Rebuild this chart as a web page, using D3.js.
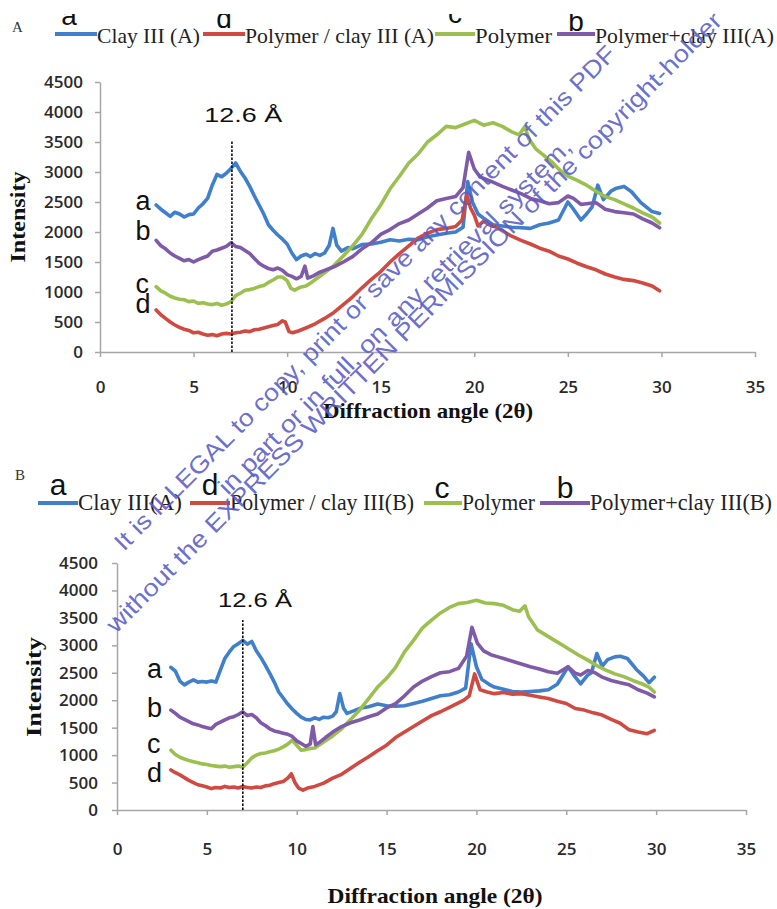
<!DOCTYPE html>
<html><head><meta charset="utf-8">
<script src="https://cdn.jsdelivr.net/npm/d3@7"></script>
<style>body{margin:0;background:#fff}svg{display:block}</style>
</head><body>
<svg id="c" width="777" height="909"></svg>
<script>
// ---------- DATA ----------
const xTicks = [0,5,10,15,20,25,30,35];
const yTicks = [0,500,1000,1500,2000,2500,3000,3500,4000,4500];
const legendNamesA = ["Clay III (A)","Polymer / clay III (A)","Polymer","Polymer+clay III(A)"];
const legendNamesB = ["Clay III(A)","Polymer / clay III(B)","Polymer","Polymer+clay III(B)"];
const legendLetters = ["a","d","c","b"];
const curveLetters = ["a","b","c","d"]; // blue, purple, green, red
const xTitle = "Diffraction angle (2\u03b8)";
const yTitle = "Intensity";
const annText = "12.6 \u00c5";

// Panel A
const clayA = [[3.0,2450],[3.25,2380],[3.5,2320],[3.75,2260],[4.0,2330],[4.25,2300],[4.5,2250],[4.75,2290],[5.0,2300],[5.25,2400],[5.5,2470],[5.75,2560],[6.0,2780],[6.25,2960],[6.5,2920],[6.75,2980],[7.0,3060],[7.25,3150],[7.5,3010],[7.75,2900],[8.0,2760],[8.25,2600],[8.5,2450],[8.75,2300],[9.0,2120],[9.25,2030],[9.5,1950],[9.75,1880],[10.0,1800],[10.25,1650],[10.5,1540],[10.75,1600],[11.0,1630],[11.25,1590],[11.5,1640],[11.75,1610],[12.0,1650],[12.25,1780],[12.45,2060],[12.65,1780],[12.9,1680],[13.25,1740],[13.5,1720],[14.0,1790],[14.5,1800],[15.0,1830],[15.5,1870],[16.0,1850],[16.5,1880],[17.0,1870],[17.5,1920],[18.0,1950],[18.5,1980],[19.0,2000],[19.4,2080],[19.65,2840],[19.9,2500],[20.2,2300],[20.5,2230],[21.0,2120],[21.5,2100],[22.0,2080],[22.5,2070],[23.0,2060],[23.5,2120],[24.0,2150],[24.5,2200],[25.0,2500],[25.3,2380],[25.7,2200],[26.0,2300],[26.3,2420],[26.6,2780],[26.9,2540],[27.3,2680],[27.6,2730],[28.0,2760],[28.4,2670],[28.9,2490],[29.5,2340],[29.9,2310]];
const polyClayA = [[3.0,700],[3.25,620],[3.5,560],[3.75,500],[4.0,450],[4.25,410],[4.5,380],[4.75,360],[5.0,320],[5.25,330],[5.5,300],[5.75,280],[6.0,290],[6.25,270],[6.5,300],[6.75,310],[7.0,300],[7.25,320],[7.5,330],[7.75,350],[8.0,340],[8.25,370],[8.5,380],[8.75,400],[9.0,420],[9.25,440],[9.5,460],[9.75,520],[9.9,500],[10.1,340],[10.3,320],[10.6,350],[11.0,400],[11.5,470],[12.0,560],[12.5,660],[13.0,790],[13.5,920],[14.0,1070],[14.5,1210],[15.0,1340],[15.5,1500],[16.0,1640],[16.5,1770],[17.0,1900],[17.5,1980],[18.0,2040],[18.5,2060],[19.0,2090],[19.35,2200],[19.6,2620],[19.8,2400],[20.0,2280],[20.2,2100],[20.5,2180],[20.8,2120],[21.2,2080],[21.5,2020],[22.0,1930],[22.5,1860],[23.0,1800],[23.5,1730],[24.0,1680],[24.5,1600],[25.0,1550],[25.5,1480],[26.0,1420],[26.5,1370],[27.0,1300],[27.5,1250],[28.0,1210],[28.5,1190],[29.0,1150],[29.5,1100],[29.9,1020]];
const polymerA = [[3.0,1090],[3.25,1020],[3.5,980],[3.75,930],[4.0,900],[4.25,880],[4.5,870],[4.75,840],[5.0,850],[5.25,810],[5.5,820],[5.75,800],[6.0,790],[6.25,810],[6.5,780],[6.75,800],[7.0,840],[7.25,940],[7.5,980],[7.75,1030],[8.0,1040],[8.25,1060],[8.5,1090],[8.75,1110],[9.0,1160],[9.25,1200],[9.5,1250],[9.75,1250],[10.0,1190],[10.2,1060],[10.4,1030],[10.7,1080],[11.0,1100],[11.3,1160],[11.6,1230],[12.0,1320],[12.5,1440],[13.0,1600],[13.5,1770],[14.0,1960],[14.5,2220],[15.0,2450],[15.5,2720],[16.0,2930],[16.5,3150],[17.0,3300],[17.5,3500],[18.0,3620],[18.5,3760],[19.0,3740],[19.5,3800],[20.0,3860],[20.5,3780],[21.0,3820],[21.5,3760],[22.0,3670],[22.4,3620],[22.7,3760],[22.9,3560],[23.3,3380],[23.7,3280],[24.2,3150],[24.6,3020],[25.0,2930],[25.5,2860],[26.0,2780],[26.5,2680],[27.0,2590],[27.5,2540],[28.0,2470],[28.5,2400],[29.0,2320],[29.5,2250],[29.9,2150]];
const polyPlusA = [[3.0,1860],[3.25,1770],[3.5,1720],[3.75,1650],[4.0,1600],[4.25,1560],[4.5,1520],[4.75,1540],[5.0,1500],[5.25,1540],[5.5,1570],[5.75,1600],[6.0,1680],[6.25,1700],[6.5,1730],[6.75,1760],[7.0,1820],[7.25,1760],[7.5,1740],[7.75,1690],[8.0,1640],[8.25,1560],[8.5,1480],[8.75,1430],[9.0,1390],[9.25,1370],[9.5,1400],[9.75,1360],[10.0,1290],[10.25,1260],[10.5,1220],[10.75,1260],[10.95,1430],[11.1,1230],[11.4,1270],[11.75,1330],[12.0,1360],[12.5,1420],[13.0,1500],[13.5,1590],[14.0,1720],[14.5,1820],[15.0,1960],[15.5,2040],[16.0,2140],[16.5,2200],[17.0,2300],[17.5,2400],[18.0,2520],[18.5,2560],[19.0,2590],[19.4,2740],[19.7,3330],[20.0,3050],[20.3,2920],[20.7,2870],[21.0,2830],[21.5,2760],[22.0,2700],[22.5,2640],[23.0,2560],[23.5,2520],[24.0,2470],[24.5,2490],[25.0,2600],[25.3,2560],[25.7,2460],[26.0,2470],[26.5,2490],[27.0,2380],[27.5,2340],[28.0,2320],[28.5,2300],[29.0,2220],[29.5,2150],[29.9,2070]];

// Panel B
const clayB = [[3.0,2600],[3.25,2530],[3.5,2350],[3.75,2280],[4.0,2330],[4.25,2370],[4.5,2330],[4.75,2340],[5.0,2330],[5.25,2350],[5.5,2330],[5.75,2550],[6.0,2760],[6.25,2880],[6.5,2980],[6.75,3030],[7.0,3090],[7.25,3020],[7.5,3070],[7.75,2900],[8.0,2780],[8.25,2640],[8.5,2490],[8.75,2330],[9.0,2150],[9.25,2040],[9.5,1930],[9.75,1840],[10.0,1760],[10.25,1690],[10.5,1650],[10.75,1640],[11.0,1680],[11.25,1650],[11.5,1690],[11.75,1680],[12.0,1710],[12.2,1790],[12.4,2120],[12.6,1860],[12.8,1760],[13.2,1810],[13.6,1860],[14.0,1880],[14.5,1930],[15.0,1900],[15.5,1890],[16.0,1900],[16.5,1940],[17.0,1980],[17.5,2030],[18.0,2080],[18.5,2100],[19.0,2150],[19.4,2220],[19.7,3030],[20.0,2610],[20.3,2380],[20.7,2290],[21.0,2240],[21.5,2200],[22.0,2160],[22.5,2150],[23.0,2160],[23.5,2170],[24.0,2190],[24.5,2290],[25.1,2610],[25.5,2420],[25.8,2300],[26.2,2460],[26.4,2500],[26.7,2850],[27.0,2620],[27.3,2740],[27.7,2790],[28.0,2800],[28.4,2760],[28.9,2560],[29.3,2440],[29.6,2320],[29.9,2420]];
const polyClayB = [[3.0,730],[3.25,680],[3.5,640],[3.75,590],[4.0,540],[4.25,500],[4.5,460],[4.75,440],[5.0,420],[5.25,390],[5.5,410],[5.75,400],[6.0,430],[6.25,410],[6.5,420],[6.75,400],[7.0,430],[7.25,410],[7.5,400],[7.75,420],[8.0,410],[8.25,440],[8.5,450],[8.75,480],[9.0,500],[9.25,520],[9.5,580],[9.7,660],[9.9,500],[10.1,400],[10.35,360],[10.6,400],[11.0,430],[11.5,490],[12.0,580],[12.5,650],[13.0,760],[13.5,870],[14.0,970],[14.5,1080],[15.0,1180],[15.5,1320],[16.0,1420],[16.5,1520],[17.0,1620],[17.5,1720],[18.0,1790],[18.5,1870],[19.0,1950],[19.3,2000],[19.6,2080],[19.9,2480],[20.2,2190],[20.6,2150],[21.0,2120],[21.5,2140],[22.0,2110],[22.5,2120],[23.0,2090],[23.5,2060],[24.0,2030],[24.5,1980],[25.0,1940],[25.5,1850],[26.0,1820],[26.5,1770],[27.0,1730],[27.5,1650],[28.0,1580],[28.5,1460],[29.0,1420],[29.5,1390],[29.9,1450]];
const polymerB = [[3.0,1090],[3.25,1010],[3.5,960],[3.75,930],[4.0,900],[4.25,880],[4.5,860],[4.75,840],[5.0,830],[5.25,810],[5.5,800],[5.75,790],[6.0,800],[6.25,780],[6.5,790],[6.75,800],[7.0,780],[7.25,860],[7.5,950],[7.75,1000],[8.0,1030],[8.25,1040],[8.5,1060],[8.75,1080],[9.0,1110],[9.25,1150],[9.5,1200],[9.75,1270],[10.0,1180],[10.25,1090],[10.5,1100],[10.75,1120],[11.0,1130],[11.5,1240],[12.0,1350],[12.5,1480],[13.0,1650],[13.5,1820],[14.0,2030],[14.5,2240],[15.0,2400],[15.5,2600],[16.0,2880],[16.5,3090],[17.0,3320],[17.5,3460],[18.0,3590],[18.5,3690],[19.0,3760],[19.5,3780],[20.0,3820],[20.5,3770],[21.0,3760],[21.5,3730],[22.0,3650],[22.4,3620],[22.7,3720],[22.9,3520],[23.4,3280],[23.8,3200],[24.3,3100],[24.8,3000],[25.2,2920],[25.7,2820],[26.2,2730],[26.7,2630],[27.2,2550],[27.7,2480],[28.2,2430],[28.7,2360],[29.2,2300],[29.6,2240],[29.9,2150]];
const polyPlusB = [[3.0,1820],[3.25,1760],[3.5,1690],[3.75,1650],[4.0,1610],[4.25,1570],[4.5,1550],[4.75,1520],[5.0,1500],[5.25,1480],[5.5,1560],[5.75,1600],[6.0,1640],[6.25,1680],[6.5,1700],[6.75,1740],[7.0,1790],[7.25,1720],[7.5,1740],[7.75,1680],[8.0,1590],[8.25,1540],[8.5,1480],[8.75,1440],[9.0,1420],[9.25,1400],[9.5,1380],[9.75,1340],[10.0,1260],[10.25,1210],[10.5,1160],[10.75,1200],[10.9,1520],[11.05,1190],[11.3,1240],[11.6,1320],[12.0,1420],[12.5,1520],[13.0,1590],[13.5,1640],[14.0,1700],[14.5,1750],[15.0,1860],[15.5,1940],[16.0,2080],[16.5,2240],[17.0,2350],[17.5,2430],[18.0,2500],[18.5,2520],[19.0,2580],[19.45,2800],[19.75,3330],[20.05,3040],[20.4,2900],[20.8,2830],[21.2,2790],[21.6,2750],[22.0,2710],[22.5,2660],[23.0,2610],[23.5,2570],[24.0,2520],[24.5,2490],[25.1,2610],[25.5,2490],[25.8,2460],[26.2,2540],[26.6,2500],[27.0,2420],[27.5,2360],[28.0,2320],[28.5,2280],[29.0,2190],[29.5,2130],[29.9,2060]];

const colors = ["#3f7fcb","#d04a42","#9cc04f","#7f5aa8"]; // clay, polymer/clay, polymer, polymer+clay

// ---------- LAYOUT ----------
const panels = [
 { label:"A", series:[clayA,polyClayA,polymerA,polyPlusA], names:legendNamesA,
   xr:[100,755], yr:[352,82], xPad:24, yPad:12,
   lab:{x:12,y:32},
   leg:{lineY:34, textY:43, fs:22, letterFs:28, clipTop:14,
        items:[{l:[55,97],tw:103,lx:69,ly:25},{l:[203,245],tw:189,lx:224,ly:28},{l:[435,475],tw:77,lx:455,ly:23},{l:[557,595],tw:179,lx:576,ly:31}]},
   yt:{x:25,y:217,len:91}, xt:{x:428,y:418,len:210},
   dash:{t:7.05,top:3530}, ann:{t:7.65,v:3830,len:78},
   cl:{t:1.9, v:[2370,1870,980,650]} },
 { label:"B", series:[clayB,polyClayB,polymerB,polyPlusB], names:legendNamesB,
   xr:[117,746], yr:[810,563], xPad:28, yPad:14,
   lab:{x:15,y:480},
   leg:{lineY:503, textY:510, fs:23, letterFs:30, clipTop:0,
        items:[{l:[38,78],tw:104,lx:58,ly:495},{l:[190,230],tw:184,lx:210,ly:495},{l:[424,462],tw:73,lx:442,ly:498},{l:[540,590],tw:182,lx:565,ly:498}]},
   yt:{x:41,y:687,len:100}, xt:{x:435,y:903,len:215},
   dash:{t:7.0,top:3460}, ann:{t:7.68,v:3700,len:74},
   cl:{t:1.67, v:[2405,1694,1038,510]} }
];

const svg = d3.select("#c");
const AX = "#a6a6a6";

panels.forEach((p, pi) => {
  const x = d3.scaleLinear().domain([0,35]).range(p.xr);
  const y = d3.scaleLinear().domain([0,4500]).range(p.yr);
  const g = svg.append("g");

  const xa = g.append("g").attr("transform",`translate(0,${p.yr[0]})`)
    .call(d3.axisBottom(x).tickValues(xTicks).tickFormat(d3.format("d")).tickSize(5).tickSizeOuter(0).tickPadding(p.xPad));
  const ya = g.append("g").attr("transform",`translate(${p.xr[0]},0)`)
    .call(d3.axisLeft(y).tickValues(yTicks).tickFormat(d3.format("d")).tickSize(5).tickSizeOuter(0).tickPadding(p.yPad));
  [xa,ya].forEach(a => {
    a.select(".domain").attr("stroke",AX).attr("stroke-width",1.5);
    a.selectAll(".tick line").attr("stroke",AX).attr("stroke-width",1.5);
    a.selectAll(".tick text").attr("fill","#2a2a2a").attr("font-size",17).attr("font-weight",600)
      .attr("font-family","'Open Sans', sans-serif");
  });

  // curves
  const line = d3.line().x(d=>x(d[0])).y(d=>y(d[1]));
  p.series.forEach((s,i) => {
    g.append("path").datum(s).attr("d",line).attr("fill","none")
      .attr("stroke",colors[i]).attr("stroke-width",3.6)
      .attr("stroke-linejoin","round").attr("stroke-linecap","round");
  });

  // dashed marker
  g.append("line").attr("x1",x(p.dash.t)).attr("x2",x(p.dash.t))
    .attr("y1",y(0)).attr("y2",y(p.dash.top))
    .attr("stroke","#111").attr("stroke-width",1.6).attr("stroke-dasharray","2.5,1.5");
  g.append("text").attr("x",x(p.ann.t)).attr("y",y(p.ann.v)).attr("text-anchor","middle")
    .attr("font-family","'Liberation Sans', Arial, sans-serif").attr("font-size",21).attr("fill","#111")
    .attr("textLength",p.ann.len).attr("lengthAdjust","spacingAndGlyphs").text(annText);

  // curve letters
  curveLetters.forEach((c,i) => {
    g.append("text").attr("x",x(p.cl.t)).attr("y",y(p.cl.v[i]))
      .attr("font-family","'Liberation Sans', Arial, sans-serif").attr("font-size",27).attr("fill","#111")
      .text(c);
  });

  // axis titles
  g.append("text").attr("transform",`translate(${p.yt.x},${p.yt.y}) rotate(-90)`)
    .attr("text-anchor","middle").attr("font-family","'Liberation Serif', 'Times New Roman', serif")
    .attr("font-weight","bold").attr("font-size",21).attr("fill","#111")
    .attr("textLength",p.yt.len).attr("lengthAdjust","spacingAndGlyphs").text(yTitle);
  g.append("text").attr("x",p.xt.x).attr("y",p.xt.y).attr("text-anchor","middle")
    .attr("font-family","'Liberation Serif', 'Times New Roman', serif")
    .attr("font-weight","bold").attr("font-size",21).attr("fill","#111")
    .attr("textLength",p.xt.len).attr("lengthAdjust","spacingAndGlyphs").text(xTitle);

  // panel label
  g.append("text").attr("x",p.lab.x).attr("y",p.lab.y)
    .attr("font-family","'Liberation Serif', serif").attr("font-size",15).attr("fill","#333").text(p.label);

  // legend
  const clipId = "lc"+pi;
  svg.append("clipPath").attr("id",clipId).append("rect")
    .attr("x",0).attr("y",p.leg.clipTop).attr("width",777).attr("height",909);
  p.leg.items.forEach((it,i) => {
    g.append("line").attr("x1",it.l[0]).attr("x2",it.l[1]).attr("y1",p.leg.lineY).attr("y2",p.leg.lineY)
      .attr("stroke",colors[i]).attr("stroke-width",4);
    g.append("text").attr("x",it.l[1]).attr("y",p.leg.textY)
      .attr("font-family","'Liberation Serif', 'Times New Roman', serif").attr("font-size",p.leg.fs)
      .attr("fill","#222").attr("textLength",it.tw).attr("lengthAdjust","spacingAndGlyphs").text(p.names[i]);
    g.append("text").attr("x",it.lx).attr("y",it.ly).attr("text-anchor","middle")
      .attr("clip-path",`url(#${clipId})`)
      .attr("font-family","'Liberation Sans', Arial, sans-serif").attr("font-size",p.leg.letterFs)
      .attr("fill","#111").text(legendLetters[i]);
  });
});

// watermark overlay present in the reference image
const wm = [
  {t:"It is ILLEGAL to copy, print or save any content of this PDF", x:124, y:552, len:700},
  {t:"in part or in full, on any retrieval system,", x:228, y:496, len:490},
  {t:"without the EXPRESS WRITTEN PERMISSION of the copyright-holder", x:116, y:634, len:862}
];
wm.forEach(w => {
  svg.append("text").attr("transform",`translate(${w.x},${w.y}) rotate(-45.2)`)
    .attr("font-family","'Liberation Sans', Arial, sans-serif").attr("font-size",24)
    .attr("fill","#5a5cc6").attr("fill-opacity",0.9)
    .attr("textLength",w.len).attr("lengthAdjust","spacingAndGlyphs").text(w.t);
});
</script>
</body></html>
